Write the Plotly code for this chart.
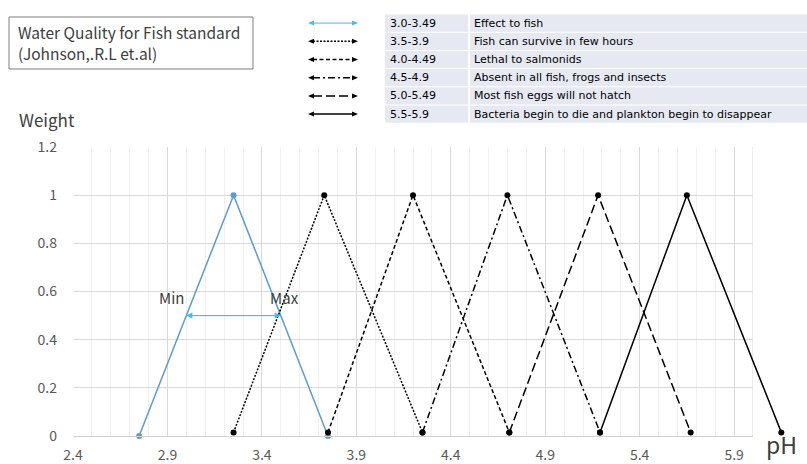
import plotly.graph_objects as go

# ---------------- data ----------------
blue_x = [2.75, 3.25, 3.75]
blue_y = [0, 1, 0]

s1_x = [3.25, 3.73, 4.25]
s1_y = [0.015, 1, 0.015]
s2_x = [3.75, 4.20, 4.71]
s2_y = [0.015, 1, 0.015]
s3_x = [4.25, 4.70, 5.19]
s3_y = [0.015, 1, 0.015]
s4_x = [4.71, 5.18, 5.67]
s4_y = [0.015, 1, 0.015]
s5_x = [5.19, 5.65, 6.15]
s5_y = [0.015, 1, 0.015]

x_ticks = [2.4, 2.9, 3.4, 3.9, 4.4, 4.9, 5.4, 5.9]
x_tick_labels = ["2.4", "2.9", "3.4", "3.9", "4.4", "4.9", "5.4", "5.9"]
y_ticks = [0, 0.2, 0.4, 0.6, 0.8, 1, 1.2]
y_tick_labels = ["0", "0.2", "0.4", "0.6", "0.8", "1", "1.2"]

ranges = ["3.0-3.49", "3.5-3.9", "4.0-4.49", "4.5-4.9", "5.0-5.49", "5.5-5.9"]
effects = ["Effect to fish", "Fish can survive in few hours", "Lethal to salmonids",
           "Absent in all fish, frogs and insects", "Most fish eggs will not hatch",
           "Bacteria begin to die and plankton begin to disappear"]
title_lines = ["Water Quality for Fish standard", "(Johnson,.R.L et.al)"]

minmax_x = [3.0, 3.5]
minmax_y = 0.5

# ---------------- layout constants ----------------
W, H = 807, 464
ML, MR, MT, MB = 73, 10, 147, 28
PW = W - ML - MR
PH = H - MT - MB
XMIN, XMAX = 2.4, 6.0
main_dom = 680 / PW

FONT = "Noto Sans CJK JP"
TFONT = "DejaVu Sans"
BLUE = "#5B9BD5"
ARROW = "#3DBDF0"
TXT = "#404040"


def px(x):
    return (x - ML) / PW


def py(y):
    return (H - MB - y) / PH


fig = go.Figure()

fig.add_trace(go.Scatter(x=blue_x, y=blue_y, mode="lines+markers",
                         line=dict(color=BLUE, width=1.5),
                         marker=dict(color=BLUE, size=6), cliponaxis=False))

black_series = [(s1_x, s1_y, "2px,1.5px"), (s2_x, s2_y, "4px,2.5px"),
                (s3_x, s3_y, "7px,3px,2px,3px"), (s4_x, s4_y, "9px,4px")]
for sx, sy, d in black_series:
    fig.add_trace(go.Scatter(x=sx, y=sy, mode="lines+markers",
                             line=dict(color="black", width=1.5, dash=d),
                             marker=dict(color="black", size=6), cliponaxis=False))

fig.add_trace(go.Scatter(x=s5_x, y=s5_y, mode="lines+markers",
                         line=dict(color="black", width=1.5),
                         marker=dict(color="black", size=6), cliponaxis=False,
                         xaxis="x2", yaxis="y2"))

# Min / Max double arrow (two overlapping full-length arrows, one head each)
for head, tail in [(minmax_x[1], minmax_x[0]), (minmax_x[0], minmax_x[1])]:
    fig.add_annotation(x=head, y=minmax_y, ax=tail, ay=minmax_y,
                       xref="x", yref="y", axref="x", ayref="y", text="",
                       showarrow=True, arrowhead=2, arrowsize=1.2, arrowwidth=1,
                       arrowcolor=ARROW, standoff=0, startstandoff=0)
fig.add_annotation(x=2.92, y=0.575, xref="x", yref="y", text="Min", showarrow=False,
                   font=dict(family=FONT, size=15, color=TXT))
fig.add_annotation(x=3.52, y=0.575, xref="x", yref="y", text="Max", showarrow=False,
                   font=dict(family=FONT, size=15, color=TXT))

shapes = []
# right border line at 6.0
shapes.append(dict(type="line", xref="x", yref="y", x0=6.0, x1=6.0, y0=0, y1=1.2,
                   line=dict(color="#D9D9D9", width=1), layer="below"))

# title box
shapes.append(dict(type="rect", xref="paper", yref="paper",
                   x0=px(9), x1=px(253), y0=py(17), y1=py(69),
                   line=dict(color="#7F7F7F", width=1), fillcolor="white"))
for j, (line_text, ly) in enumerate(zip(title_lines, [31.5, 53])):
    fig.add_annotation(xref="paper", yref="paper", x=px(16), y=py(ly), xanchor="left",
                       yanchor="middle", align="left", showarrow=False,
                       text=line_text, font=dict(family=FONT, size=15.5, color=TXT))

# legend table
row0, rowh = 14.5, 18.2
dashes = ["solid", "2px,1.5px", "4px,2.5px", "7px,3px,2px,3px", "9px,4px", "solid"]
colors = [ARROW, "black", "black", "black", "black", "black"]
for i in range(6):
    top = row0 + i * rowh
    bot = top + rowh - 1
    cy = (top + bot) / 2
    shapes.append(dict(type="rect", xref="paper", yref="paper",
                       x0=px(385), x1=px(468), y0=py(top), y1=py(bot),
                       line=dict(width=0), fillcolor="#E6E9F2"))
    shapes.append(dict(type="rect", xref="paper", yref="paper",
                       x0=px(470), x1=px(807), y0=py(top), y1=py(bot),
                       line=dict(width=0), fillcolor="#E6E9F2"))
    fig.add_annotation(xref="paper", yref="paper", x=px(388), y=py(cy),
                       xanchor="left", yanchor="middle", showarrow=False,
                       text=ranges[i], font=dict(family=TFONT, size=11, color="black"))
    fig.add_annotation(xref="paper", yref="paper", x=px(472), y=py(cy),
                       xanchor="left", yanchor="middle", showarrow=False,
                       text=effects[i], font=dict(family=TFONT, size=11, color="black"))
    c = colors[i]
    lw = 1 if i == 0 else 1.5
    shapes.append(dict(type="line", xref="paper", yref="paper",
                       x0=px(313), x1=px(353), y0=py(cy), y1=py(cy),
                       line=dict(color=c, width=lw, dash=dashes[i])))
    # arrowheads
    shapes.append(dict(type="path", xref="paper", yref="paper",
                       path=f"M {px(308)} {py(cy)} L {px(314)} {py(cy-2.5)} L {px(314)} {py(cy+2.5)} Z",
                       line=dict(width=0), fillcolor=c))
    shapes.append(dict(type="path", xref="paper", yref="paper",
                       path=f"M {px(358)} {py(cy)} L {px(352)} {py(cy-2.5)} L {px(352)} {py(cy+2.5)} Z",
                       line=dict(width=0), fillcolor=c))

fig.add_annotation(xref="paper", yref="paper", x=px(17), y=py(119), xanchor="left",
                   yanchor="middle", showarrow=False, text="Weight",
                   font=dict(family=FONT, size=17, color=TXT))
fig.add_annotation(xref="paper", yref="paper", x=px(764), y=py(463), xanchor="left",
                   yanchor="bottom", showarrow=False, text="pH",
                   font=dict(family=FONT, size=23, color=TXT))

fig.update_layout(
    width=W, height=H,
    margin=dict(l=ML, r=MR, t=MT, b=MB, pad=0, autoexpand=False),
    paper_bgcolor="white", plot_bgcolor="rgba(0,0,0,0)",
    showlegend=False,
    font=dict(family=FONT, color="#595959"),
    shapes=shapes,
    xaxis=dict(domain=[0, main_dom], range=[XMIN, XMAX], tickvals=x_ticks,
               ticktext=x_tick_labels, showgrid=True, gridcolor="#D9D9D9", gridwidth=1,
               minor=dict(dtick=0.1, tick0=2.4, showgrid=True, gridcolor="#F0F0F0"),
               zeroline=False, showline=True, linecolor="#D0D0D0", linewidth=1,
               ticks="", tickfont=dict(family=FONT, size=14, color="#595959"),
               ticklabelstandoff=6, anchor="y", automargin=False),
    yaxis=dict(domain=[0, 1], range=[0, 1.2], tickvals=y_ticks, ticktext=y_tick_labels,
               showgrid=True, gridcolor="#D9D9D9", gridwidth=1, zeroline=False,
               showline=False, ticks="", tickfont=dict(family=FONT, size=14, color="#595959"),
               ticklabelstandoff=15, anchor="x", automargin=False),
    xaxis2=dict(domain=[0, 1], range=[XMIN, XMIN + (XMAX - XMIN) / main_dom],
                visible=False, showgrid=False, zeroline=False, anchor="y2",
                automargin=False),
    yaxis2=dict(domain=[0, 1], range=[0, 1.2], visible=False, showgrid=False,
                zeroline=False, anchor="x2", automargin=False),
)

fig.write_html("out.html", config={"displayModeBar": False},
               post_script="document.body.style.margin='0';document.body.style.overflow='hidden';")
